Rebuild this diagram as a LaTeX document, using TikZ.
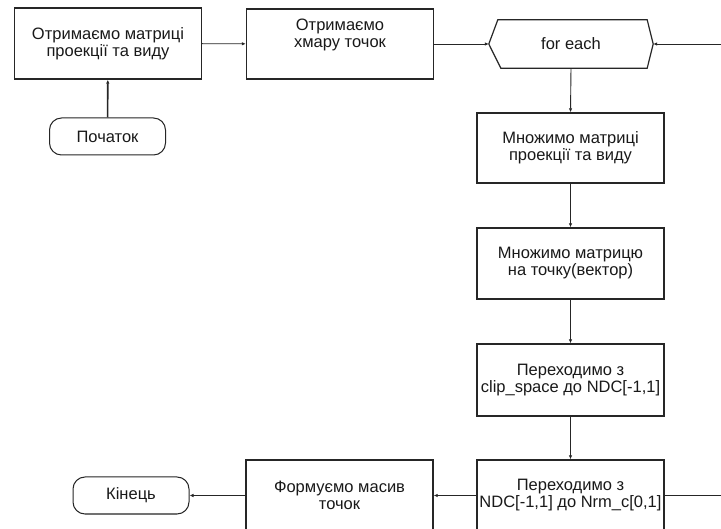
\documentclass[tikz,border=0pt]{standalone}
\usepackage{fontspec}
\setmainfont{Liberation Sans}
\usetikzlibrary{arrows.meta}
\begin{document}
\begin{tikzpicture}[x=1pt,y=-1pt,
  every node/.style={font=\fontsize{16.5}{17}\selectfont, text=black!90, inner sep=0pt, align=center},
  procbox/.style={draw=black!85, line width=1.4pt, minimum width=187pt, minimum height=71pt},
  termbox/.style={draw=black!85, line width=1pt, rounded corners=12pt, minimum width=116pt, minimum height=37pt},
  loopbox/.style={minimum width=164pt, minimum height=48pt},
  flow/.style={draw=black!85, line width=0.9pt, -{Latex[length=4pt,width=3.5pt]}},
  plain/.style={draw=black!85, line width=0.9pt}
]
\clip (0,0) rectangle (721,529);
\fill[white] (0,0) rectangle (721,529);

% left column: start and first step
\node[procbox] (b1) at (108,43.5) {Отримаємо матриці\\проекції та виду};
\node[termbox] (start) at (107.5,136.5) {Початок};

% point cloud and loop header
\node[procbox, minimum height=70pt] (b2) at (340,44) {Отримаємо\\хмару точок\\\strut};
\node[loopbox] (fe) at (571,44) {for each};
\draw[black!85, line width=1.2pt]
  (fe.west) -- ([xshift=9pt]fe.north west) -- ([xshift=-6pt]fe.north east)
  -- (fe.east) -- ([xshift=-6pt]fe.south east) -- ([xshift=12pt]fe.south west) -- cycle;

% loop body
\node[procbox, minimum height=70pt] (b3) at (570.5,148) {Множимо матриці\\проекції та виду};
\node[procbox] (b4) at (570.5,263.5) {Множимо матрицю\\на точку(вектор)};
\node[procbox, minimum height=72pt] (b5) at (570.5,380) {Переходимо з\\clip\_space до NDC[-1,1]};
\node[procbox] (b6) at (570.5,495.5) {Переходимо з\\NDC[-1,1] до Nrm\_c[0,1]};

% result and end
\node[procbox] (b7) at (339.5,495.5) {Формуємо масив\\точок};
\node[termbox] (end) at (131,495.5) {Кінець};

% loop return points at the right edge
\coordinate (loopin) at (721,44);
\coordinate (loopout) at (721,495.5);

% connectors
\draw[flow, line width=1.6pt] (start) -- (b1);
\draw[flow] (b1) -- (b2);
\draw[flow] (b2.east) -- (fe.west);
\draw[flow] (loopin) -- (fe.east);
\draw[flow] (fe.south) -- (b3.north);
\draw[flow] (b3) -- (b4);
\draw[flow] (b4) -- (b5);
\draw[flow] (b5) -- (b6);
\draw[plain] (b6.east) -- (loopout);
\draw[flow] (b6) -- (b7);
\draw[flow] (b7) -- (end);
\end{tikzpicture}
\end{document}
